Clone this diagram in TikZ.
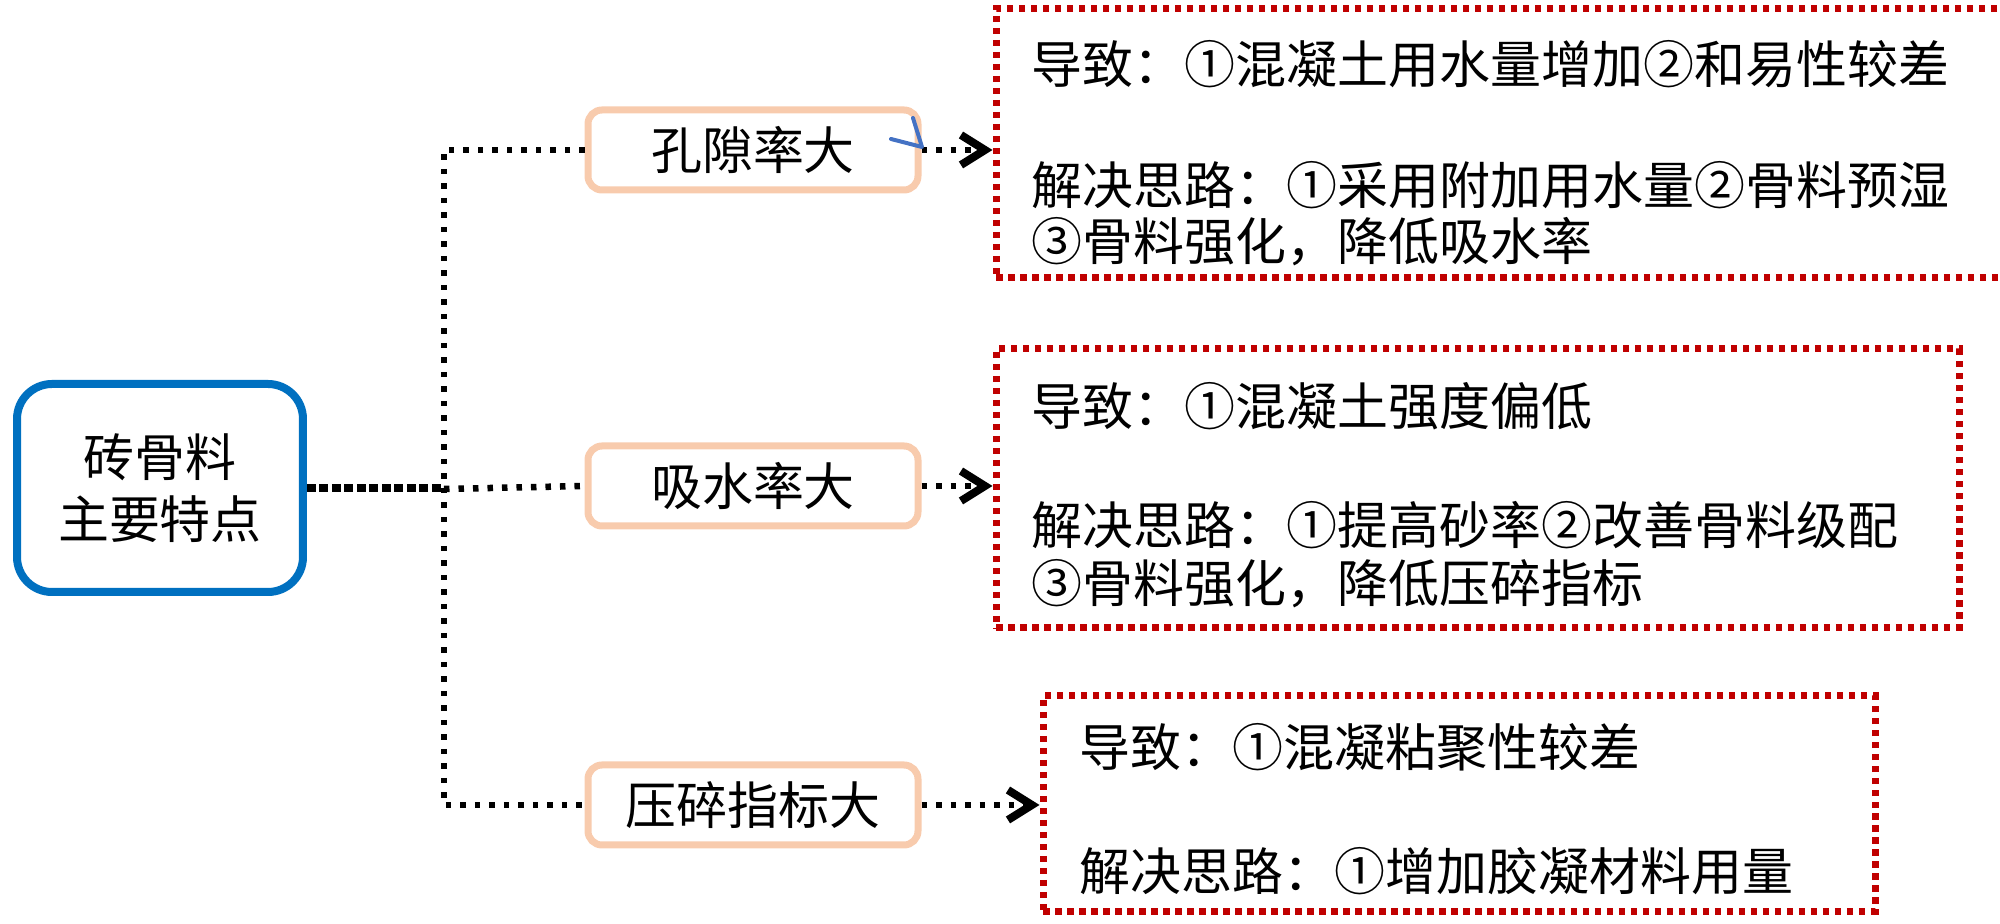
\documentclass[tikz,border=0pt]{standalone}
\usepackage{fontspec}
\setmainfont{Noto Sans CJK SC}
\usetikzlibrary{arrows.meta,calc,positioning}
\definecolor{mainblue}{HTML}{0070C0}
\definecolor{peach}{HTML}{F8CBAD}
\definecolor{darkred}{HTML}{C00000}
\definecolor{penblue}{HTML}{4472C4}

\begin{document}
\begin{tikzpicture}[
  x=0.1mm, y=-0.1mm,
  every node/.style={font=\fontsize{14.5pt}{17.6pt}\selectfont, inner sep=0pt},
  mainbox/.style={draw=mainblue, line width=0.8mm, rounded corners=3.5mm, minimum width=28.6mm, minimum height=20.8mm, align=center},
  featbox/.style={draw=peach, line width=0.7mm, rounded corners=1.4mm, minimum width=33mm, minimum height=8mm},
  notebox/.style={draw=darkred, line width=0.7mm, dash pattern=on 0.65mm off 0.55mm},
  note/.style={anchor=west},
  dashline/.style={draw, line width=0.75mm, dash pattern=on 0.9mm off 0.35mm},
  dotline/.style={draw, line width=0.65mm, dash pattern=on 0.55mm off 0.9mm},
  tip/.style={-{Straight Barb[length=2.4mm, width=3mm, line width=0.8mm]}}
]
\clip (0,0) rectangle (2000,924);

\node[mainbox] (main) at (160,488) {砖骨料\\主要特点};

\node[featbox] (f1) at (753,150) {孔隙率大};
\node[featbox] (f2) at (753,486) {吸水率大};
\node[featbox] (f3) at (753,805) {压碎指标大};

\node[notebox, minimum width=101.4mm, minimum height=26.9mm] (r1) at (1503,143.5) {};
\node[notebox, minimum width=96.3mm, minimum height=27.9mm] (r2) at (1477.5,488.5) {};
\node[notebox, minimum width=83.2mm, minimum height=21.6mm] (r3) at (1459,804) {};

\node[note] (r1a) at (1031,64) {导致：①混凝土用水量增加②和易性较差};
\node[note] (r1b) at (1031,185) {解决思路：①采用附加用水量②骨料预湿};
\node[note] (r1c) at (1031,242) {③骨料强化，降低吸水率};

\node[note] (r2a) at (1031,406) {导致：①混凝土强度偏低};
\node[note] (r2b) at (1031,525) {解决思路：①提高砂率②改善骨料级配};
\node[note] (r2c) at (1031,584) {③骨料强化，降低压碎指标};

\node[note] (r3a) at (1079,747) {导致：①混凝粘聚性较差};
\node[note] (r3b) at (1079,871) {解决思路：①增加胶凝材料用量};

\coordinate (j) at (444,489);
\draw[dashline] (main.east) -- (main.east -| j);
\draw[dotline] (f1.west) -| (j) |- (f3.west);
\draw[dotline] (j) -- (f2.west);

\draw[dotline, tip] (f1.east) -- (f1.east -| r1.west);
\draw[dotline, tip] (f2.east) -- (f2.east -| r2.west);
\draw[dotline, tip] (f3.east) -- (f3.east -| r3.west);

\draw[penblue, line width=0.4mm, line cap=round, line join=round] (891,139) -- (922,147) -- (913,118);
\end{tikzpicture}
\end{document}
